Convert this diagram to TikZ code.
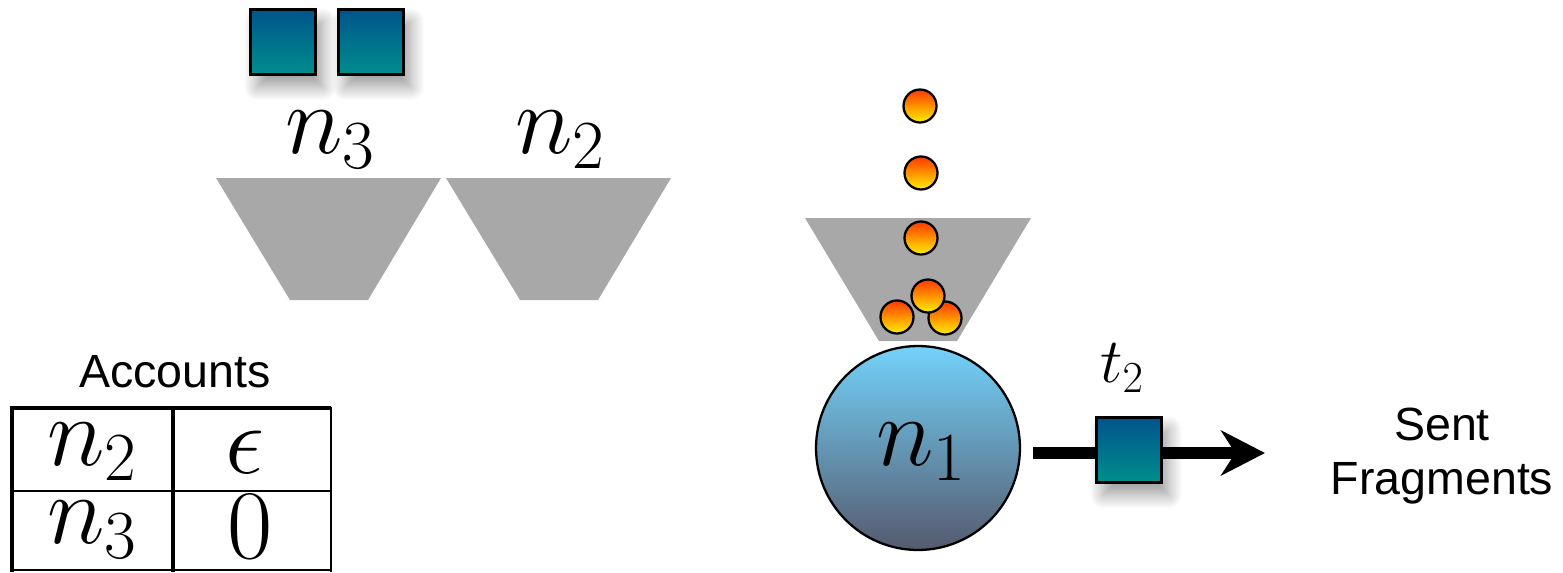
\RequirePackage{fix-cm}
\documentclass[tikz,border=0pt]{standalone}
\usepackage{amsmath,amssymb}
\usepackage{fontspec}
\setsansfont{Liberation Sans}
\usepackage{tikz}
\usetikzlibrary{positioning,arrows.meta,shadows.blur}
\usepackage{xcolor}
\definecolor{fragtop}{RGB}{0,84,140}
\definecolor{fragbot}{RGB}{0,142,140}
\definecolor{balltop}{RGB}{255,55,0}
\definecolor{ballbot}{RGB}{255,240,0}
\definecolor{nodetop}{RGB}{115,210,250}
\definecolor{nodebot}{RGB}{85,90,110}
\definecolor{hoppergray}{RGB}{168,168,168}
\begin{document}
\begin{tikzpicture}[x=0.02cm,y=-0.02cm,>={Stealth[length=0.88cm,width=0.9cm]},
  frag/.style={draw=black,line width=1.6pt,minimum size=1.3cm,inner sep=0pt,top color=fragtop,bottom color=fragbot,blur shadow={shadow xshift=4pt,shadow yshift=-7pt,shadow blur radius=8pt,shadow blur steps=14,shadow opacity=40}},
  ball/.style={circle,draw=black,line width=1.3pt,minimum size=0.66cm,inner sep=0pt,top color=balltop,bottom color=ballbot},
  hopper/.style={fill=hoppergray},
  biglabel/.style={font=\fontsize{56}{64}\selectfont,inner sep=0pt},
  sans/.style={font=\fontsize{26.5}{31}\sffamily,align=center}]
\useasboundingbox (0,0) rectangle (1563,572);
% waiting fragments and the queues of n3, n2
\node[frag] (q1) at (283,42) {};
\node[frag] (q2) at (371,42) {};
\node[biglabel] (lab3) at (330,140) {$n_3$};
\node[biglabel] (lab2) at (560,140) {$n_2$};
\fill[hopper] (216,178) -- (441,178) -- (368,300) -- (290,300) -- cycle;
\fill[hopper] (446,178) -- (671,178) -- (598,300) -- (520,300) -- cycle;
% queue of n1 with its balls
\fill[hopper] (805,218) -- (1031,218) -- (957,341) -- (879,341) -- cycle;
\node[ball] (b1) at (920,106) {};
\node[ball] (b2) at (921,173) {};
\node[ball] (b3) at (921,238) {};
\node[ball] (b4) at (897,317) {};
\node[ball] (b5) at (945,318) {};
\node[ball] (b6) at (928,296) {};
% node n1 and the sent fragment
\node[circle,draw=black,line width=1.3pt,minimum size=4.08cm,inner sep=0pt,top color=nodetop,bottom color=nodebot] (n1) at (918,448) {};
\node[biglabel] (n1lab) at (921,452) {$n_1$};
\coordinate (out) at (1265,453);
\draw[->,line width=6.8pt,shorten <=7pt] (n1.east |- out) -- (out);
\node[frag] (t2) at (1129,450) {};
\node[font=\fontsize{36}{42}\selectfont] (t2lab) at (1122,368) {$t_2$};
\node[sans] (sent) at (1442,456) {Sent\\Fragments};
% accounts table
\node[sans] (acc) at (175,372) {Accounts};
\draw[line width=2.8pt] (10,408) -- (331,408);
\draw[line width=1.4pt] (10,491) -- (331,491);
\draw[line width=1.4pt] (10,570) -- (331,570);
\draw[line width=2.8pt] (12,407) -- (12,572);
\draw[line width=2.8pt] (173,407) -- (173,572);
\draw[line width=1.6pt] (331,407) -- (331,572);
\node[biglabel] (k2) at (92,452) {$n_2$};
\node[biglabel] (v2) at (245,452) {$\epsilon$};
\node[biglabel] (k3) at (92,530) {$n_3$};
\node[biglabel] (v3) at (250,527) {$0$};
\end{tikzpicture}
\end{document}
